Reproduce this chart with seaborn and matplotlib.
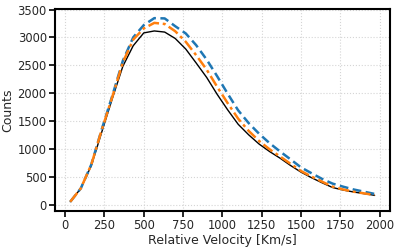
import numpy as np
import pandas as pd
import matplotlib
matplotlib.use('Agg')
import matplotlib.pyplot as plt
import seaborn as sns

# bin centres of the velocity histogram [Km/s]
velocity = [33, 100, 167, 233, 300, 367, 433, 500, 567, 633,
            700, 767, 833, 900, 967, 1033, 1100, 1167, 1233, 1300,
            1367, 1433, 1500, 1567, 1633, 1700, 1767, 1833, 1900, 1967]

counts_black = [50, 290, 700, 1300, 1900, 2480, 2850, 3080, 3115, 3095,
                2980, 2790, 2540, 2280, 1975, 1700, 1440, 1250, 1085, 950,
                830, 700, 580, 480, 390, 305, 260, 225, 195, 165]

counts_blue = [50, 290, 720, 1350, 1950, 2580, 3000, 3220, 3345, 3340,
               3200, 3070, 2860, 2600, 2300, 1990, 1690, 1460, 1270, 1100,
               950, 810, 665, 560, 460, 375, 320, 270, 230, 190]

counts_orange = [50, 290, 720, 1340, 1930, 2550, 2960, 3160, 3260, 3240,
                 3110, 2920, 2680, 2420, 2110, 1820, 1540, 1320, 1140, 990,
                 860, 730, 600, 500, 410, 320, 270, 230, 200, 170]

sns.set_style('ticks')
plt.rcParams['font.family'] = ['DejaVu Sans']

d = pd.DataFrame({'v': velocity, 'black': counts_black,
                  'blue': counts_blue, 'orange': counts_orange})

f = plt.figure(figsize=(3.99, 2.49), dpi=100)
ax = f.add_axes([0.138, 0.153, 0.839, 0.811])

sns.lineplot(x='v', y='black', data=d, color='black', lw=1.0, ax=ax)
sns.lineplot(x='v', y='blue', data=d, color='#1f77b4', lw=1.8, ax=ax,
             linestyle=(0, (3.5, 1.8)))
sns.lineplot(x='v', y='orange', data=d, color='#ff7f0e', lw=1.8, ax=ax,
             linestyle=(0, (4.5, 1.5, 1.2, 1.5)))

ax.set_xticks([0, 250, 500, 750, 1000, 1250, 1500, 1750, 2000])
ax.set_yticks([0, 500, 1000, 1500, 2000, 2500, 3000, 3500])
ax.grid(True, color='#d5d5d5', linestyle=':', lw=0.8)
ax.set_axisbelow(True)
for s in ax.spines.values():
    s.set_linewidth(1.5)
    s.set_color('black')
ax.tick_params(axis='both', labelsize=8.3, length=4, width=1.2, color='black', pad=2)
ax.set_xlabel('Relative Velocity [Km/s]', fontsize=9, labelpad=1)
ax.set_ylabel('Counts', fontsize=9, labelpad=2)

f.savefig('out.png', dpi=100)
